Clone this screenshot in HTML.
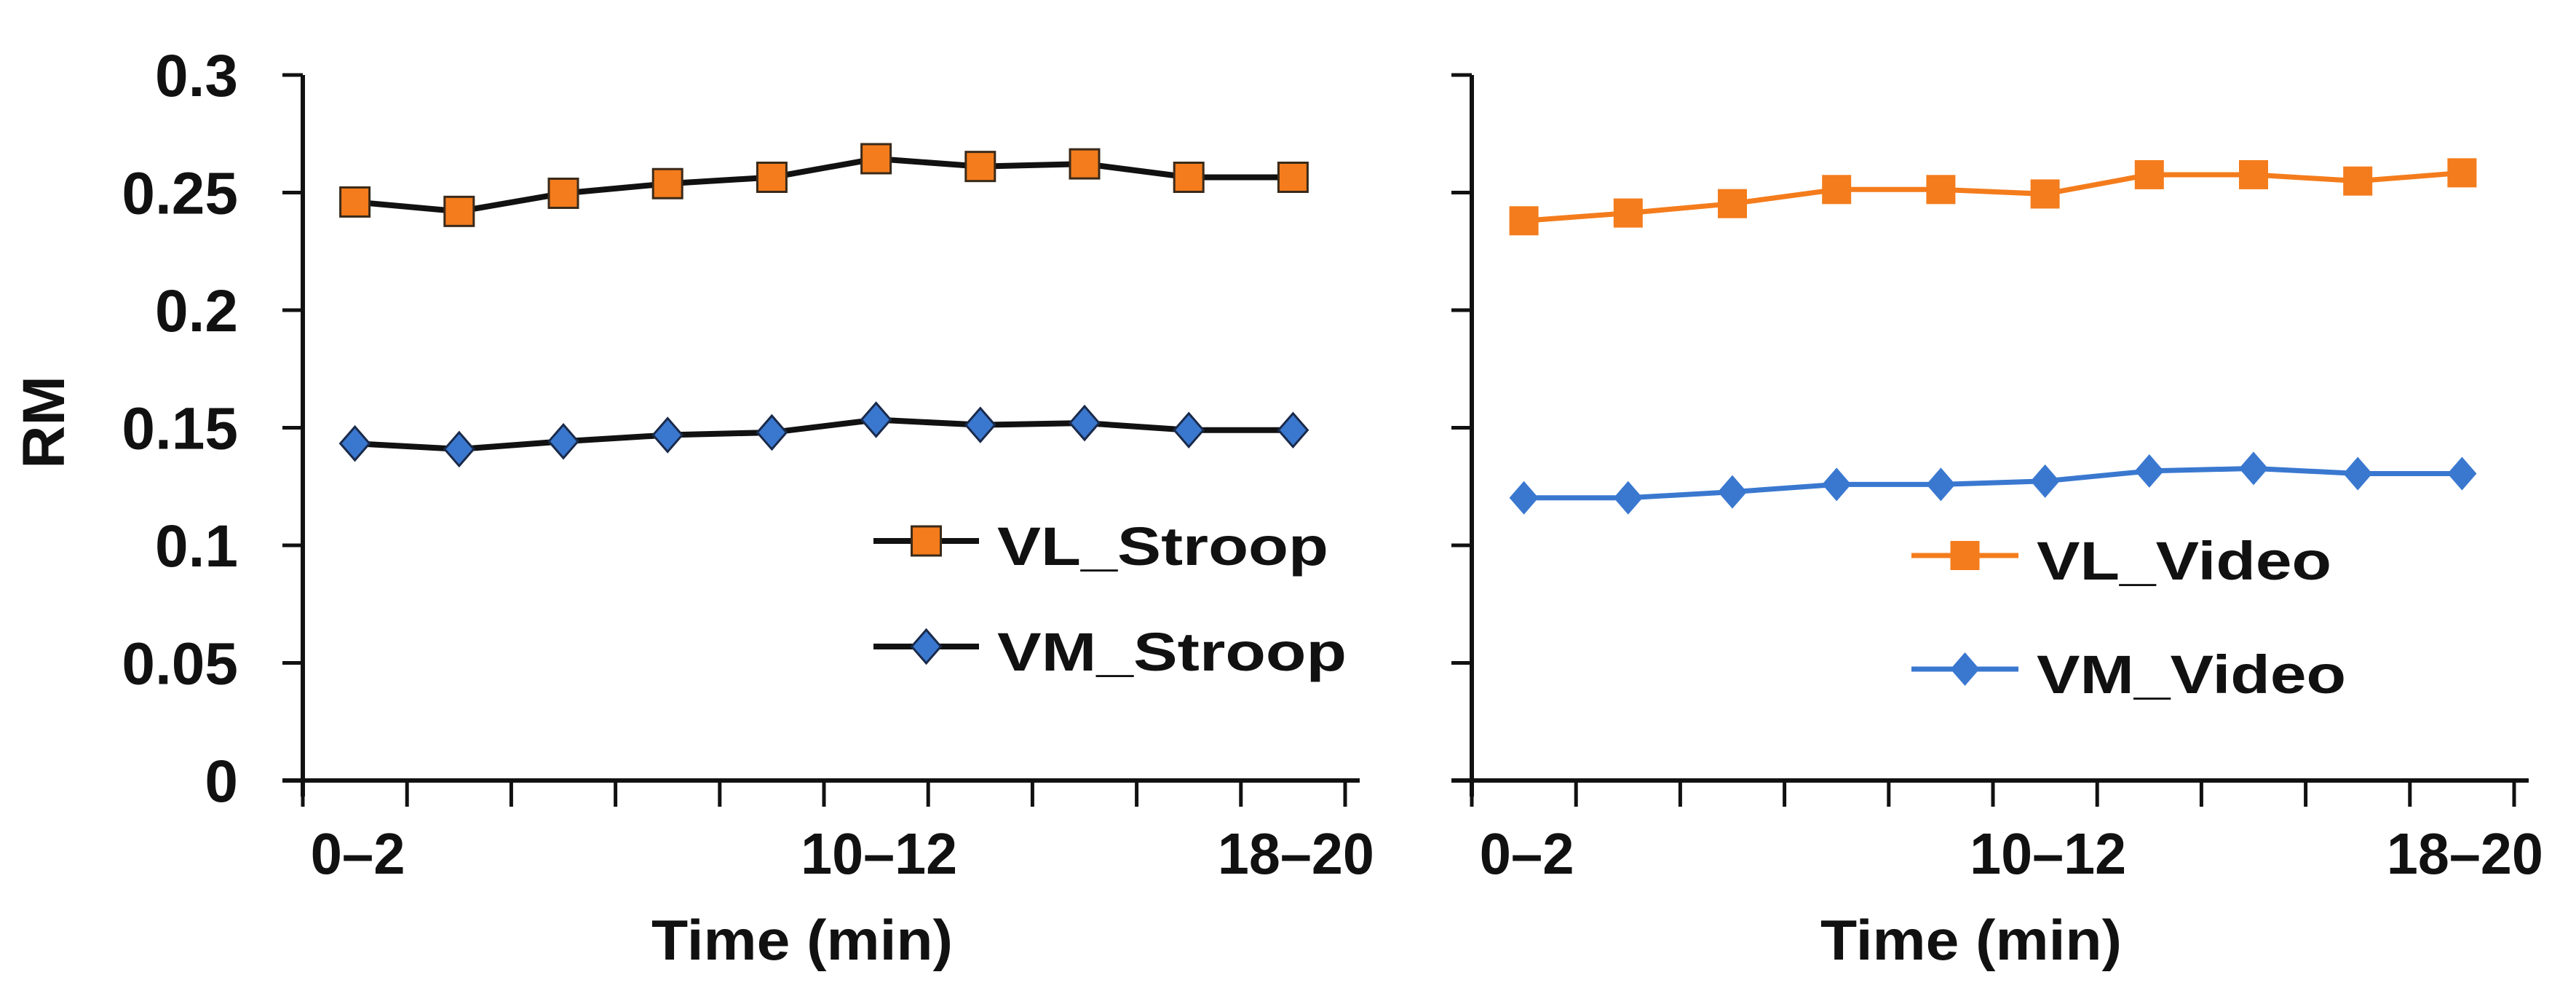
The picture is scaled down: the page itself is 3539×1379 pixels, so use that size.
<!DOCTYPE html>
<html><head><meta charset="utf-8"><style>
html,body{margin:0;padding:0;background:#fff;}
svg{display:block;font-family:"Liberation Sans",Arial,sans-serif;font-weight:bold;}
</style></head><body>
<svg id="chart" width="3539" height="1379" viewBox="0 0 3539 1379" xmlns="http://www.w3.org/2000/svg"></svg>
<script>
const categories = ["0–2","2–4","4–6","6–8","8–10","10–12","12–14","14–16","16–18","18–20"];
const shownLabels = ["0–2","10–12","18–20"];
const yTicks = [0,0.05,0.1,0.15,0.2,0.25,0.3];
const yTickLabels = ["0","0.05","0.1","0.15","0.2","0.25","0.3"];
const vlStroop = [0.246,0.242,0.2497,0.2538,0.2565,0.2644,0.2611,0.2622,0.2565,0.2565];
const vmStroop = [0.1433,0.1409,0.1442,0.1469,0.1480,0.1534,0.1512,0.1520,0.149,0.149];
const vlVideo = [0.238,0.2413,0.2453,0.2513,0.2513,0.2494,0.2576,0.2576,0.2549,0.2584];
const vmVideo = [0.1202,0.1202,0.1227,0.1259,0.1259,0.1273,0.1316,0.1327,0.1305,0.1305];

const svg = document.getElementById('chart');
const NS = 'http://www.w3.org/2000/svg';
function mk(tag, attrs, parent){const e=document.createElementNS(NS,tag);for(const k in attrs)e.setAttribute(k,attrs[k]);(parent||svg).appendChild(e);return e;}
const ORANGE='#f47c1c', BLUE='#3a78d0';
const Y0=1072, Y1=103;
function yScale(v){return Y0-(v/0.3)*(Y0-Y1);}

function panel(p){
  const g=mk('g',{});
  
  
  const step=p.step;
  function xScale(i){return p.ax+step*(i+0.5);}
  const ya=mk('line',{x1:p.ax,y1:Y1,x2:p.ax,y2:Y0+22,stroke:'#111','stroke-width':6},g);
  
  const xa=mk('line',{x1:p.ax-28,y1:Y0,x2:p.ax+step*10+20,y2:Y0,stroke:'#111','stroke-width':6},g);
  
  yTicks.forEach((t,i)=>{
    const l=mk('line',{x1:p.ax-28,y1:yScale(t),x2:p.ax,y2:yScale(t),stroke:'#111','stroke-width':5},g);
    
    if(p.yLabels){
      const tx=mk('text',{x:327,y:yScale(t)+29,'text-anchor':'end','font-size':82,fill:'#111'},g);
      tx.textContent=yTickLabels[i];
      
    }
  });
  for(let i=0;i<=10;i++){
    const x=p.ax+step*i;
    const l=mk('line',{x1:x,y1:Y0,x2:x,y2:Y0+36,stroke:'#111','stroke-width':5},g);
    
  }
  categories.forEach((c,i)=>{
    if(shownLabels.indexOf(c)<0)return;
    const tl = c.length===3 ? 130 : 215;
    const tx=mk('text',{x:xScale(i)-tl/2+4,y:1200,'font-size':80,fill:'#111',textLength:tl,lengthAdjust:'spacingAndGlyphs'},g);
    tx.textContent=c;
    
  });
  const xt=mk('text',{x:p.ax+step*5-30-207,y:1318,'font-size':78,fill:'#111',textLength:414,lengthAdjust:'spacingAndGlyphs'},g);
  xt.textContent='Time (min)';
  
  p.series.forEach(s=>{
    const pts=s.data.map((v,i)=>xScale(i)+','+yScale(v)).join(' ');
    const pl=mk('polyline',{points:pts,fill:'none',stroke:s.line,'stroke-width':p.lw,'stroke-linejoin':'round'},g);
    
    s.data.forEach((v,i)=>{
      const m=marker(g,s,xScale(i),yScale(v),p.outline);
      
    });
    const lg=mk('g',{},g);
    
    mk('line',{x1:s.lx1,y1:s.ly,x2:s.lx2,y2:s.ly,stroke:s.line,'stroke-width':p.lw},lg);
    marker(lg,s,(s.lx1+s.lx2)/2,s.ly,p.outline);
    const lt=mk('text',{x:s.lx2+25,y:s.ly+33,'font-size':74,fill:'#111',textLength:s.tl,lengthAdjust:'spacingAndGlyphs'},lg);
    lt.textContent=s.label;
  });
}
function marker(g,s,x,y,outline){
  if(s.shape==='sq'){
    return mk('rect',{x:x-20,y:y-20,width:40,height:40,fill:s.fill,stroke:outline?'#3a2a1a':'none','stroke-width':3},g);
  }
  return mk('polygon',{points:`${x},${y-23} ${x+20},${y} ${x},${y+23} ${x-20},${y}`,fill:s.fill,stroke:outline?'#1a2a4a':'none','stroke-width':3},g);
}
panel({name:'stroop-panel',ax:416,step:143.2,yLabels:true,lw:8,outline:true,series:[
  {key:'vl-stroop',label:'VL_Stroop',data:vlStroop,line:'#111',fill:ORANGE,shape:'sq',lx1:1200,lx2:1345,ly:743,tl:455},
  {key:'vm-stroop',label:'VM_Stroop',data:vmStroop,line:'#111',fill:BLUE,shape:'di',lx1:1200,lx2:1345,ly:888,tl:480}]});
panel({name:'video-panel',ax:2022,step:143.2,yLabels:false,lw:7,outline:false,series:[
  {key:'vl-video',label:'VL_Video',data:vlVideo,line:ORANGE,fill:ORANGE,shape:'sq',lx1:2626,lx2:2773,ly:763,tl:405},
  {key:'vm-video',label:'VM_Video',data:vmVideo,line:BLUE,fill:BLUE,shape:'di',lx1:2626,lx2:2773,ly:919,tl:425}]});
const rm=mk('text',{x:0,y:0,'text-anchor':'middle','font-size':82,fill:'#111',transform:'translate(88,580) rotate(-90)'});
rm.textContent='RM';


</script>
</body></html>
